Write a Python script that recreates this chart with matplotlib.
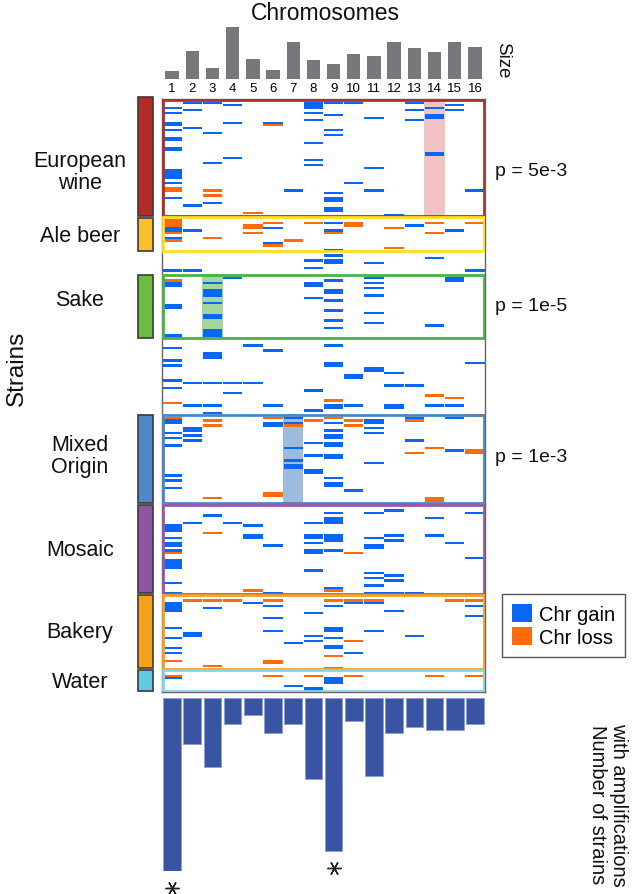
import matplotlib
matplotlib.use("Agg")
import matplotlib.pyplot as plt
import matplotlib.transforms as mtransforms
from matplotlib.patches import Rectangle, Patch

plt.rcParams["font.family"] = ["Liberation Sans", "DejaVu Sans"]

GAIN = "#0a66f5"
LOSS = "#ff6a0a"
GREY_BAR = "#77787b"
AMP_BAR = "#3a54a4"

# chromosome sizes (kb)
chromosomes = list(range(1, 17))
chr_size_kb = [230, 813, 317, 1532, 577, 270, 1091, 563, 440, 746, 667, 1078, 924, 784, 1091, 948]

# number of strains with amplifications per chromosome
n_amplified = [60, 16, 24, 9, 6, 12, 9, 28, 53, 8, 27, 12, 10, 11, 11, 9]
starred = [1, 9]

# strain groups (rows of the heatmap, top to bottom)
group_labels = ["European\nwine", "Ale beer", None, "Sake", None, "Mixed\nOrigin", "Mosaic", "Bakery", "Water"]
group_sizes = [47, 14, 9, 26, 30, 36, 36, 30, 9]
group_colors = ["#b22d27", "#fbc02d", None, "#6cbd45", None, "#4f87c7", "#8f55a1", "#f6a11d", "#62cbe0"]
box_colors = ["#b0302a", "#ffe01a", None, "#46b446", None, "#4d86c4", "#9a57a4", "#f5a01e", "#7fd6ea"]

# enriched chromosome per group: (group index, chromosome, p-value)
enriched = [(0, 14, "p = 5e-3"), (3, 3, "p = 1e-5"), (5, 7, "p = 1e-3")]
shade_colors = {0: "#f2c3c3", 3: "#a3d79d", 5: "#9dbbdf"}

# aneuploidies: chromosome -> list of (first strain row, number of rows)
gains = {
    1: [(3, 1), (5, 1), (9, 2), (12, 1), (15, 2), (19, 2), (28, 4), (33, 1), (39, 1), (51, 2), (55, 1), (68, 1),
        (73, 2), (82, 2), (94, 1), (99, 1), (104, 1), (106, 1), (112, 1), (115, 1), (128, 2), (133, 1), (135, 1),
        (138, 1), (150, 1), (152, 1), (155, 1), (170, 3), (175, 1), (177, 2), (180, 1), (184, 4), (193, 1),
        (197, 1), (201, 4), (211, 1), (215, 1), (219, 1), (221, 1), (231, 1)],
    2: [(1, 1), (4, 1), (11, 1), (42, 1), (52, 1), (68, 1), (113, 1), (122, 1), (131, 2), (134, 1), (136, 1),
        (169, 1), (213, 2)],
    3: [(1, 1), (13, 1), (25, 1), (41, 1), (73, 1), (76, 3), (81, 1), (86, 2), (92, 3), (101, 3), (113, 1),
        (122, 1), (125, 1), (166, 1), (203, 1)],
    4: [(0, 1), (2, 1), (9, 1), (23, 1), (71, 1), (113, 1), (117, 1), (169, 1)],
    5: [(98, 1), (113, 1), (170, 1), (174, 2), (201, 1)],
    6: [(9, 1), (51, 1), (57, 1), (100, 1), (122, 1), (129, 2), (178, 1), (197, 1), (202, 1), (207, 1), (212, 1)],
    7: [(36, 1), (127, 1), (129, 1), (139, 1), (144, 1), (146, 2), (217, 1), (234, 1)],
    8: [(1, 3), (5, 1), (8, 1), (17, 1), (24, 1), (26, 1), (64, 1), (67, 1), (73, 2), (79, 1), (116, 1), (124, 1),
        (137, 1), (142, 1), (148, 2), (169, 1), (174, 2), (177, 1), (180, 2), (188, 1), (205, 1), (214, 1),
        (216, 1), (235, 2)],
    9: [(1, 1), (6, 1), (12, 1), (14, 1), (37, 1), (39, 2), (43, 2), (49, 1), (52, 1), (60, 1), (62, 1), (64, 2),
        (72, 1), (76, 2), (80, 1), (84, 1), (88, 1), (91, 1), (98, 1), (105, 2), (122, 2), (129, 1), (132, 1),
        (134, 2), (137, 2), (142, 2), (151, 1), (153, 2), (165, 1), (167, 3), (174, 3), (180, 1), (195, 1),
        (202, 1), (211, 2), (215, 1), (218, 2), (231, 3)],
    10: [(1, 1), (33, 1), (110, 2), (122, 1), (156, 1), (201, 1), (221, 1)],
    11: [(7, 1), (27, 1), (36, 1), (65, 1), (71, 1), (73, 1), (75, 1), (78, 1), (85, 1), (89, 1), (107, 2),
         (128, 2), (131, 1), (133, 1), (145, 1), (165, 1), (175, 1), (178, 2), (189, 1), (191, 1), (194, 1),
         (197, 1), (201, 1), (212, 1)],
    12: [(46, 1), (109, 1), (114, 1), (122, 2), (164, 1), (174, 1), (176, 1), (190, 1), (192, 1), (197, 1), (204, 1)],
    13: [(1, 1), (4, 1), (8, 1), (50, 1), (114, 1), (127, 1), (136, 1), (197, 1), (214, 1)],
    14: [(3, 1), (6, 2), (21, 2), (63, 1), (90, 1), (122, 1), (167, 1), (174, 1)],
    15: [(0, 1), (2, 1), (4, 1), (52, 1), (71, 2), (122, 1), (127, 1), (140, 1), (177, 1)],
    16: [(36, 1), (68, 1), (105, 1), (165, 1), (183, 1), (202, 1), (206, 1)],
}
losses = {
    1: [(35, 2), (48, 3), (53, 1), (56, 1), (72, 1), (95, 1), (121, 1), (127, 1), (181, 1), (224, 1), (230, 1)],
    2: [(200, 1)],
    3: [(36, 1), (38, 1), (55, 1), (128, 1), (130, 1), (159, 1), (173, 1), (200, 1), (226, 1)],
    4: [(200, 1)],
    5: [(45, 1), (50, 2), (53, 1), (196, 1)],
    6: [(10, 1), (49, 1), (58, 1), (127, 1), (157, 2), (200, 1), (224, 2), (230, 1)],
    7: [(56, 1), (130, 1), (161, 1)],
    8: [(49, 1), (128, 1), (230, 1)],
    9: [(53, 1), (120, 1), (127, 1), (196, 1), (200, 1), (222, 1), (227, 1)],
    10: [(49, 2), (128, 1), (130, 1), (181, 1), (200, 1), (216, 1), (230, 1)],
    11: [(200, 1)],
    12: [(51, 1), (59, 1)],
    13: [(128, 1), (141, 1)],
    14: [(49, 1), (53, 1), (118, 1), (139, 1), (159, 2), (230, 1)],
    15: [(119, 1), (200, 1)],
    16: [(49, 1), (126, 1), (140, 2), (200, 1), (230, 1)],
}

W, H = 633, 895
fig = plt.figure(figsize=(W / 100, H / 100), dpi=100)
fig.patch.set_facecolor("white")


def box(x0, y0, x1, y1):
    return [x0 / W, 1 - y1 / H, (x1 - x0) / W, (y1 - y0) / H]


# overlay in pixel coordinates for labels
ov = fig.add_axes([0, 0, 1, 1])
ov.set_xlim(0, W)
ov.set_ylim(H, 0)
ov.axis("off")

n_rows = sum(group_sizes)
starts = [sum(group_sizes[:i]) for i in range(len(group_sizes))]

# heatmap
hm = fig.add_axes(box(162, 100, 485, 693))
hm.set_xlim(0.5, 16.5)
hm.set_ylim(n_rows, 0)
hm.set_xticks([])
hm.set_yticks([])
for s in hm.spines.values():
    s.set_color("#666666")
    s.set_linewidth(1)

for gi, chrom, _ in enriched:
    hm.add_patch(Rectangle((chrom - 0.5, starts[gi]), 1, group_sizes[gi], facecolor=shade_colors[gi],
                           edgecolor="none", zorder=1))

for events, color in ((gains, GAIN), (losses, LOSS)):
    for chrom, rows in events.items():
        for r, n in rows:
            hm.add_patch(Rectangle((chrom - 0.48, r + 0.03), 0.96, n - 0.06, facecolor=color,
                                   edgecolor="none", zorder=2))

for gi, col in enumerate(box_colors):
    if col is None:
        continue
    hm.add_patch(Rectangle((0.53, starts[gi] + 0.35), 15.94, group_sizes[gi] - 0.7, facecolor="none",
                           edgecolor=col, linewidth=2.0, zorder=3))

# left group colour bars and labels
trans = mtransforms.blended_transform_factory(ov.transData, hm.transData)
label_offsets = {0: 5.5, 1: 0.5, 3: -3, 5: -1.5, 8: 0.5}
p_offsets = {0: 5, 3: -0.5, 5: -1}
for gi, (lab, col) in enumerate(zip(group_labels, group_colors)):
    if lab is None:
        continue
    ov.add_patch(Rectangle((138, starts[gi] - 0.6 if gi == 0 else starts[gi] + 0.4, ), 15,
                           group_sizes[gi] - (-0.2 if gi == 0 else 0.8), transform=trans,
                           facecolor=col, edgecolor="#3a3a3a", linewidth=1.2, clip_on=False))
    yc = starts[gi] + group_sizes[gi] / 2 + label_offsets.get(gi, 0)
    ov.text(80, yc, lab, transform=trans, ha="center", va="center", fontsize=15.5,
            linespacing=1.05, color="#111111")

for gi, chrom, ptxt in enriched:
    yc = starts[gi] + group_sizes[gi] / 2 + p_offsets[gi]
    ov.text(495, yc, ptxt, transform=trans, ha="left", va="center", fontsize=14, color="#111111")

ov.text(17, 368, "Strains", rotation=90, ha="center", va="center", fontsize=17.5, color="#111111")

# chromosome sizes
top = fig.add_axes(box(162, 28, 485, 80))
top.bar(chromosomes, chr_size_kb, width=0.66, color=GREY_BAR)
top.set_xlim(0.5, 16.5)
top.set_ylim(0, max(chr_size_kb))
top.set_yticks([])
top.set_xticks(chromosomes)
top.set_xticklabels([str(c) for c in chromosomes], fontsize=9.5)
top.tick_params(axis="x", length=0, pad=2)
for s in top.spines.values():
    s.set_visible(False)
ov.text(325, 13, "Chromosomes", ha="center", va="center", fontsize=16.5, color="#111111")
ov.text(503, 60, "Size", rotation=-90, ha="center", va="center", fontsize=13.5, color="#111111")

# number of strains with amplifications
bot = fig.add_axes(box(162, 699, 485, 872))
bot.bar(chromosomes, n_amplified, width=0.87, color=AMP_BAR, edgecolor="#8ea0d2", linewidth=0.7)
bot.set_xlim(0.5, 16.5)
bot.set_ylim(max(n_amplified), 0)
bot.axis("off")
for c in starred:
    bot.plot(c, n_amplified[c - 1] + 6, marker=(6, 2, 90), markersize=10, color="#222222",
             markeredgewidth=1.0, clip_on=False)
ov.text(597, 805, "Number of strains", rotation=-90, ha="center", va="center", fontsize=14.5, color="#111111")
ov.text(619, 805, "with amplifications", rotation=-90, ha="center", va="center", fontsize=14.5, color="#111111")

# legend
handles = [Patch(facecolor=GAIN, edgecolor="none"), Patch(facecolor=LOSS, edgecolor="none")]
fig.legend(handles, ["Chr gain", "Chr loss"], loc="upper left", bbox_to_anchor=(502 / W, 1 - 595 / H),
           fontsize=14.5, frameon=True, fancybox=False, edgecolor="#555555", framealpha=1,
           handlelength=1.0, handleheight=1.0, handletextpad=0.35, borderpad=0.5, labelspacing=0.15,
           borderaxespad=0)

fig.savefig("out.png", dpi=100, facecolor="white")
